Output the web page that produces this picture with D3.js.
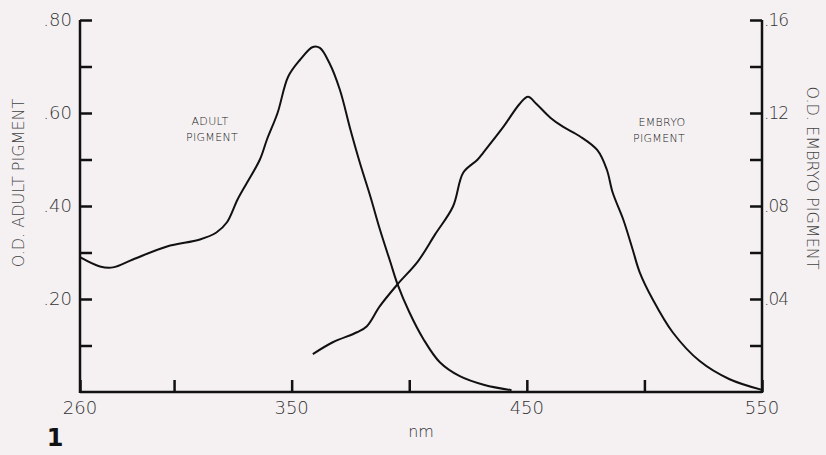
<!DOCTYPE html>
<html><head><meta charset="utf-8">
<script src="https://cdn.jsdelivr.net/npm/d3@7"></script>
<style>html,body{margin:0;padding:0;background:#f5f1f2;}svg{display:block;}</style>
</head><body>
<script>
// Data
const adultNm = [260,268.5,274,282.5,297,311,318,322.5,327,331,336.5,339.5,344,348.5,353.5,359,362,366,370.5,375,379,383.5,387.5,392,395,400,406,413,421.5,432,443.5];
const adultOD = [0.290,0.270,0.268,0.285,0.313,0.328,0.343,0.365,0.414,0.450,0.500,0.543,0.600,0.678,0.714,0.742,0.740,0.708,0.650,0.564,0.493,0.420,0.350,0.279,0.232,0.172,0.114,0.064,0.034,0.015,0.004];
const embryoNm = [359,367.5,377.8,382,387.5,395,403.7,411,418.6,423,429,431.5,440,447,450.5,454,460,465.5,472.5,480,484,486.5,491,495,498,503.5,512,523.5,536,550];
const embryoOD = [0.0163,0.0214,0.0257,0.0283,0.0369,0.0463,0.0562,0.0678,0.0798,0.0944,0.0999,0.103,0.114,0.124,0.127,0.124,0.118,0.114,0.110,0.104,0.0957,0.0858,0.0742,0.0613,0.0515,0.0399,0.0257,0.0133,0.0056,0.0009];
const xTickValues = [260,300,350,400,450,500,550];
const xTickLabels = ["260","","350","","450","","550"];
const leftTickValues = [0.1,0.2,0.3,0.4,0.5,0.6,0.7,0.8];
const leftTickLabels = ["",".20","",".40","",".60","",".80"];
const rightTickValues = [0.02,0.04,0.06,0.08,0.10,0.12,0.14,0.16];
const rightTickLabels = ["",".04","",".08","",".12","",".16"];

const W = 826, H = 455;
const svg = d3.select("body").append("svg").attr("width", W).attr("height", H);
svg.append("rect").attr("width", W).attr("height", H).attr("fill", "#f5f1f2");

const x = d3.scaleLinear().domain([260, 550]).range([80, 762]);
const yL = d3.scaleLinear().domain([0, 0.8]).range([392, 20]);
const yR = d3.scaleLinear().domain([0, 0.16]).range([392, 20]);

const font = "'DejaVu Sans', sans-serif";
const fw = 200;
const textCol = "#333";

// Axes
const gx = svg.append("g").attr("transform", "translate(0,392)")
  .call(d3.axisTop(x).tickValues(xTickValues).tickSize(12).tickFormat(""));
const gl = svg.append("g").attr("transform", "translate(80,0)")
  .call(d3.axisRight(yL).tickValues(leftTickValues).tickSize(12).tickFormat(""));
const gr = svg.append("g").attr("transform", "translate(762,0)")
  .call(d3.axisLeft(yR).tickValues(rightTickValues).tickSize(12).tickFormat(""));
[gx, gl, gr].forEach(g => {
  g.select(".domain").remove();
  g.selectAll(".tick line").attr("stroke", "#111").attr("stroke-width", 2.5);
});
// axis lines
svg.append("line").attr("x1", x(260)).attr("x2", x(550)).attr("y1", 392).attr("y2", 392).attr("stroke", "#111").attr("stroke-width", 2.5);
svg.append("line").attr("x1", 80).attr("x2", 80).attr("y1", yL(0.8)).attr("y2", 393).attr("stroke", "#111").attr("stroke-width", 2.5);
svg.append("line").attr("x1", 762).attr("x2", 762).attr("y1", yR(0.16)).attr("y2", 393).attr("stroke", "#111").attr("stroke-width", 2.5);

// tick labels
svg.append("g").selectAll("text").data(xTickValues.map((v,i)=>[v,xTickLabels[i]]).filter(d=>d[1])).join("text")
  .attr("x", d => x(d[0])).attr("y", 414).attr("text-anchor", "middle")
  .attr("font-family", font).attr("font-weight", fw).attr("font-size", 18).attr("fill", textCol).text(d => d[1]);
svg.append("g").selectAll("text").data(leftTickValues.map((v,i)=>[v,leftTickLabels[i]]).filter(d=>d[1])).join("text")
  .attr("x", 72).attr("y", d => yL(d[0]) + 6).attr("text-anchor", "end")
  .attr("font-family", font).attr("font-weight", fw).attr("font-size", 18).attr("fill", textCol).text(d => d[1]);
svg.append("g").selectAll("text").data(rightTickValues.map((v,i)=>[v,rightTickLabels[i]]).filter(d=>d[1])).join("text")
  .attr("x", 764).attr("y", d => yR(d[0]) + 6).attr("text-anchor", "start")
  .attr("font-family", font).attr("font-weight", fw).attr("font-size", 17).attr("letter-spacing", -1).attr("fill", textCol).text(d => d[1]);

// axis titles
svg.append("text").attr("transform", "translate(24,183) rotate(-90)").attr("text-anchor", "middle")
  .attr("font-family", font).attr("font-weight", fw).attr("font-size", 16).attr("fill", "#444").text("O.D. ADULT PIGMENT");
svg.append("text").attr("transform", "translate(807,178) rotate(90)").attr("text-anchor", "middle")
  .attr("font-family", font).attr("font-weight", fw).attr("font-size", 16).attr("fill", "#444").text("O.D. EMBRYO PIGMENT");
svg.append("text").attr("x", 421).attr("y", 437).attr("text-anchor", "middle")
  .attr("font-family", font).attr("font-weight", fw).attr("font-size", 16).attr("fill", textCol).text("nm");
svg.append("text").attr("x", 55).attr("y", 446).attr("text-anchor", "middle")
  .attr("font-family", font).attr("font-size", 24).attr("font-weight", "bold").attr("fill", "#111").text("1");

// curve labels
const lab = (t, cx, cy) => svg.append("text").attr("x", cx).attr("y", cy).attr("text-anchor", "middle")
  .attr("font-family", font).attr("font-weight", fw).attr("font-size", 11).attr("letter-spacing", 0.3).attr("fill", "#222").text(t);
lab("ADULT", 210, 125); lab("PIGMENT", 212, 141);
lab("EMBRYO", 662, 126); lab("PIGMENT", 659, 142);

// curves
const lineA = d3.line().x(d => x(d[0])).y(d => yL(d[1])).curve(d3.curveCatmullRom);
const lineE = d3.line().x(d => x(d[0])).y(d => yR(d[1])).curve(d3.curveCatmullRom);
svg.append("path").datum(adultNm.map((v,i)=>[v,adultOD[i]])).attr("d", lineA)
  .attr("fill", "none").attr("stroke", "#111").attr("stroke-width", 2);
svg.append("path").datum(embryoNm.map((v,i)=>[v,embryoOD[i]])).attr("d", lineE)
  .attr("fill", "none").attr("stroke", "#111").attr("stroke-width", 2);
</script>
</body></html>
